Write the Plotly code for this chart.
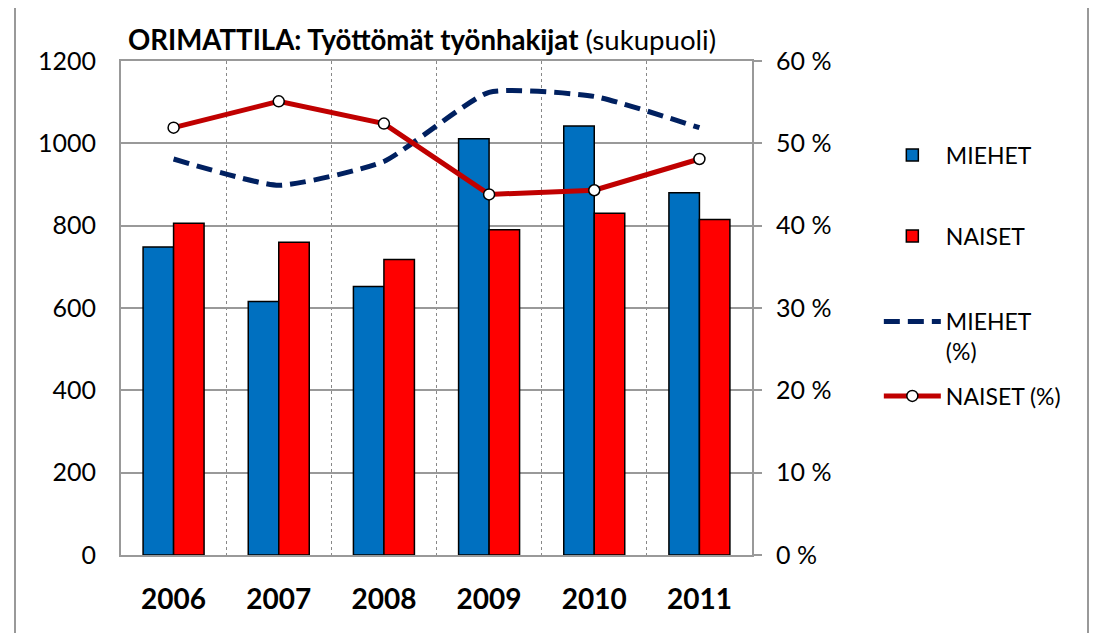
import plotly.graph_objects as go

years = ["2006", "2007", "2008", "2009", "2010", "2011"]
miehet = [748, 616, 652, 1011, 1042, 880]
naiset = [806, 760, 718, 790, 830, 815]
miehet_pct = [48.1, 44.9, 47.8, 56.2, 55.7, 51.9]
naiset_pct = [51.9, 55.1, 52.4, 43.8, 44.3, 48.1]

y_ticks = [0, 200, 400, 600, 800, 1000, 1200]
y2_ticks = [0, 10, 20, 30, 40, 50, 60]
y2_labels = [f"{v} %" for v in y2_ticks]

FONT = "Lato"
GRID = "#999999"
OFF = 8  # page body margin offset

fig = go.Figure()
fig.add_trace(go.Bar(x=years, y=miehet, name="MIEHET", marker=dict(color="#0070C0", line=dict(color="black", width=1.5)), legend="legend"))
fig.add_trace(go.Bar(x=years, y=naiset, name="NAISET", marker=dict(color="#FF0000", line=dict(color="black", width=1.5)), legend="legend2"))
fig.add_trace(go.Scatter(x=years, y=miehet_pct, name="MIEHET<br>(%)", yaxis="y2", mode="lines",
                         line=dict(color="#002060", width=5, dash="16px,8px", shape="spline", smoothing=0.5), legend="legend3"))
fig.add_trace(go.Scatter(x=years, y=naiset_pct, name="NAISET (%)", yaxis="y2", mode="lines+markers",
                         line=dict(color="#C00000", width=5),
                         marker=dict(symbol="circle", size=11, color="white", line=dict(color="black", width=1.5)), legend="legend4"))

leg_common = dict(font=dict(family=FONT, size=23, color="black"), bgcolor="rgba(0,0,0,0)", x=1.201, xanchor="left", itemwidth=57)

fig.update_layout(
    width=1098, height=633,
    margin=dict(l=121-OFF, r=1098-(121-OFF)-631, t=61-OFF, b=633-(61-OFF)-494),
    paper_bgcolor="white", plot_bgcolor="white",
    showlegend=True,
    font=dict(family=FONT, size=23, color="black"),
    barmode="group", bargap=0.42, bargroupgap=0,
    title=dict(text="<b>ORIMATTILA: Työttömät työnhakijat</b> (sukupuoli)", font=dict(family=FONT, size=27.6, color="black"),
               x=(128-OFF)/1098, xanchor="left", xref="container", y=1-(40-OFF)/633, yanchor="middle"),
    xaxis=dict(type="category", tickson="boundaries", showgrid=True, griddash="dot", gridcolor="#888888", gridwidth=1,
               showline=True, linecolor=GRID, linewidth=2, mirror=True, ticks="",
               tickfont=dict(family=FONT, size=28, color="black", weight="bold"), ticklabelstandoff=18),
    yaxis=dict(range=[0, 1200], tickvals=y_ticks, showgrid=True, gridcolor=GRID, gridwidth=2,
               showline=True, linecolor=GRID, linewidth=2, ticks="", zeroline=False,
               tickfont=dict(family=FONT, size=25, color="black"), ticklabelstandoff=18),
    yaxis2=dict(range=[0, 60], tickvals=y2_ticks, ticktext=y2_labels, overlaying="y", side="right", showgrid=False,
                showline=True, linecolor=GRID, linewidth=2, ticks="outside", ticklen=8, tickcolor=GRID, tickwidth=2,
                zeroline=False, tickfont=dict(family=FONT, size=25, color="black"), ticklabelstandoff=9),
    legend=dict(**leg_common, y=(555-155)/494, yanchor="middle"),
    legend2=dict(**leg_common, y=(555-236)/494, yanchor="middle"),
    legend3=dict(**leg_common, y=(555-300)/494, yanchor="top", valign="top"),
    legend4=dict(**leg_common, y=(555-396)/494, yanchor="middle"),
    shapes=[dict(type="rect", xref="paper", yref="paper", x0=(15-121)/631, x1=(1088-121)/631, y0=-0.3, y1=(555-7)/494,
                 line=dict(color="#999999", width=2), fillcolor="rgba(0,0,0,0)", layer="below")],
)

fig.write_html("out.html")
